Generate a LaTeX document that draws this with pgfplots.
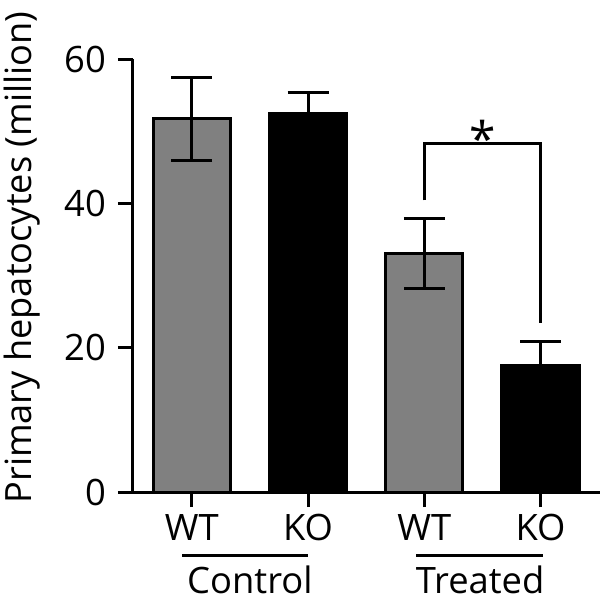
\documentclass[border=0pt]{standalone}
\usepackage{fontspec}
\setmainfont{Open Sans}
\usepackage{pgfplots}
\pgfplotsset{compat=1.18}
\definecolor{bargray}{RGB}{128,128,128}
\begin{document}
\begin{tikzpicture}
\useasboundingbox (-133bp,-108bp) rectangle (470bp,492bp);
\begin{axis}[
  at={(0,0)}, anchor=south west,
  scale only axis, width=467bp, height=433bp,
  xmin=-0.505, xmax=3.511, ymin=0, ymax=60,
  axis x line*=bottom, axis y line*=left,
  axis line style={line width=3bp},
  clip=false,
  xtick={0,1,2,3}, xticklabels={WT,KO,WT,KO},
  ytick={0,20,40,60},
  tick align=outside,
  major tick length=15bp,
  tick style={line width=3bp, black},
  /pgf/number format/assume math mode=true,
  ticklabel style={font=\fontsize{36.5}{40}\selectfont},
  yticklabel style={anchor=east, inner sep=0pt, xshift=-12bp},
  xticklabel style={anchor=base, inner sep=0pt, yshift=-33bp},
  error bars/y dir=both, error bars/y explicit,
  error bars/error bar style={line width=3bp, black},
  error bars/error mark options={rotate=90, mark size=20.5bp, line width=3bp, black},
]
\addplot[ybar, bar width=0.665, bar shift=0pt, fill=bargray, draw=black, line width=3bp]
  coordinates {(0,51.7) +- (0,5.8) (2,33.05) +- (0,4.9)};
\addplot[ybar, bar width=0.665, bar shift=0pt, fill=black, draw=black, line width=3bp]
  coordinates {(1,52.4) +- (0,2.9) (3,17.5) +- (0,3.3)};

% significance bracket
\draw[line width=3bp] (axis cs:2,40.4) -- (axis cs:2,48.3) -- (axis cs:3,48.3) -- (axis cs:3,23.4);
\node[anchor=north, inner sep=0pt, font=\fontsize{48}{52}\selectfont] at (axis cs:2.5,51.6) {*};

% group labels
\draw[line width=3bp] (axis cs:-0.08,-8.73) -- (axis cs:1.0,-8.73);
\draw[line width=3bp] (axis cs:1.93,-8.73) -- (axis cs:3.02,-8.73);
\node[anchor=base, inner sep=0pt, font=\fontsize{36.5}{40}\selectfont] at (axis cs:0.5,-14) {Control};
\node[anchor=base, inner sep=0pt, font=\fontsize{36.5}{40}\selectfont] at (axis cs:2.48,-14) {Treated};
\end{axis}
\node[rotate=90, anchor=base, inner sep=0pt, font=\fontsize{36.3}{40}\selectfont] at (-101bp,234.5bp) {Primary hepatocytes (million)};
\end{tikzpicture}
\end{document}
